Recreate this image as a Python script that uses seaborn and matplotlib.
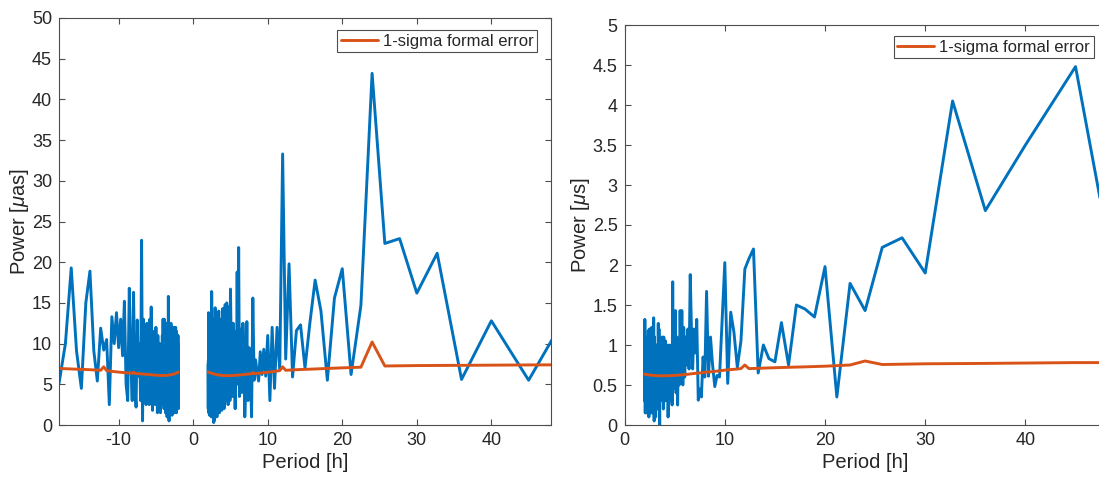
import matplotlib
matplotlib.use("Agg")
import matplotlib.pyplot as plt
import seaborn as sns
import pandas as pd
from matplotlib.ticker import FuncFormatter

# ---------------- data ----------------
# periods of the spectral grid [h] (harmonics k = 7 ... 180)
PERIOD = [
    51.43, 45.00, 40.00, 36.00,
    32.73, 30.00, 27.69, 25.71, 24.00, 22.50, 21.18, 20.00, 18.95, 18.00,
    17.14, 16.36, 15.65, 15.00, 14.40, 13.85, 13.33, 12.86, 12.41, 12.00,
    11.61, 11.25, 10.91, 10.59, 10.29, 10.00, 9.73, 9.47, 9.23, 9.00,
    8.78, 8.57, 8.37, 8.18, 8.00, 7.83, 7.66, 7.50, 7.35, 7.20,
    7.06, 6.92, 6.79, 6.67, 6.55, 6.43, 6.32, 6.21, 6.10, 6.00,
    5.90, 5.81, 5.71, 5.63, 5.54, 5.45, 5.37, 5.29, 5.22, 5.14,
    5.07, 5.00, 4.93, 4.86, 4.80, 4.74, 4.68, 4.62, 4.56, 4.50,
    4.44, 4.39, 4.34, 4.29, 4.24, 4.19, 4.14, 4.09, 4.04, 4.00,
    3.96, 3.91, 3.87, 3.83, 3.79, 3.75, 3.71, 3.67, 3.64, 3.60,
    3.56, 3.53, 3.50, 3.46, 3.43, 3.40, 3.36, 3.33, 3.30, 3.27,
    3.24, 3.21, 3.19, 3.16, 3.13, 3.10, 3.08, 3.05, 3.03, 3.00,
    2.98, 2.95, 2.93, 2.90, 2.88, 2.86, 2.83, 2.81, 2.79, 2.77,
    2.75, 2.73, 2.71, 2.69, 2.67, 2.65, 2.63, 2.61, 2.59, 2.57,
    2.55, 2.54, 2.52, 2.50, 2.48, 2.47, 2.45, 2.43, 2.42, 2.40,
    2.38, 2.37, 2.35, 2.34, 2.32, 2.31, 2.29, 2.28, 2.26, 2.25,
    2.24, 2.22, 2.21, 2.20, 2.18, 2.17, 2.16, 2.14, 2.13, 2.12,
    2.11, 2.09, 2.08, 2.07, 2.06, 2.05, 2.04, 2.02, 2.01, 2.00,
]

# left panel, positive periods, power [muas]
POWER_POS_MUAS = [
    15.7, 5.5, 12.8, 5.6,
    21.1, 16.2, 22.9, 22.3, 43.2, 14.7, 6.2, 19.2, 15.6, 5.5,
    14.0, 17.8, 12.5, 7.0, 12.3, 11.6, 5.9, 19.8, 8.1, 33.3,
    6.8, 12.0, 4.5, 12.0, 3.0, 11.0, 6.0, 9.3, 6.2, 9.0,
    5.4, 6.5, 8.0, 5.5, 15.6, 1.0, 7.5, 9.5, 3.0, 12.7,
    4.5, 1.0, 9.0, 12.5, 4.0, 11.8, 5.0, 3.5, 21.8, 5.0,
    18.8, 6.0, 11.5, 2.0, 10.0, 6.5, 12.5, 3.5, 9.0, 5.0,
    12.0, 16.7, 3.0, 10.5, 5.5, 14.5, 2.5, 12.0, 7.0, 15.0,
    4.0, 10.0, 3.0, 14.8, 6.0, 11.0, 2.0, 12.5, 5.0, 9.0,
    14.3, 3.0, 8.0, 1.8, 12.0, 5.0, 10.5, 2.5, 13.0, 6.0,
    9.0, 1.5, 11.0, 4.0, 14.0, 7.0, 2.0, 10.0, 5.0, 12.5,
    3.0, 8.5, 1.0, 11.0, 6.0, 13.5, 2.5, 9.5, 4.5, 12.0,
    3.0, 14.4, 5.0, 10.0, 1.5, 12.0, 6.5, 0.5, 9.0, 3.5,
    0.3, 11.0, 5.0, 13.0, 2.0, 8.0, 4.0, 11.5, 1.5, 7.5,
    3.5, 12.0, 6.0, 2.0, 16.4, 4.0, 9.0, 1.0, 10.5, 5.5,
    13.0, 3.0, 8.0, 2.0, 11.0, 5.0, 12.5, 1.5, 7.0, 3.5,
    10.0, 2.5, 13.5, 6.0, 1.2, 9.0, 4.0, 11.5, 2.0, 7.0,
    3.0, 10.0, 1.5, 6.5, 13.8, 4.0, 8.0, 2.0, 5.0, 7.5,
]

# left panel, negative periods (harmonics k = 20 ... 180), power [muas]
POWER_NEG_MUAS = [
    5.1,
    10.0, 19.3, 9.1, 4.5, 15.0, 18.9, 9.1, 5.4, 11.9, 9.2,
    10.5, 2.5, 13.3, 10.0, 13.8, 9.5, 13.0, 8.5, 15.2, 5.0,
    3.0, 16.8, 8.0, 3.0, 16.3, 5.0, 2.2, 12.9, 6.0, 10.0,
    3.0, 22.7, 0.5, 13.0, 5.0, 11.0, 2.5, 12.5, 6.0, 9.0,
    2.5, 13.0, 4.0, 14.5, 7.0, 1.8, 10.0, 11.5, 3.5, 8.0,
    2.5, 12.0, 5.0, 9.0, 1.5, 11.0, 4.0, 7.0, 2.0, 10.0,
    6.0, 1.5, 9.5, 4.5, 8.0, 2.5, 11.0, 3.0, 13.0, 5.0,
    9.0, 2.0, 13.0, 6.0, 3.0, 10.5, 1.5, 8.0, 4.0, 12.5,
    2.5, 7.0, 1.0, 11.0, 5.0, 9.0, 2.0, 15.8, 3.5, 7.5,
    0.5, 10.0, 4.0, 8.5, 1.5, 12.0, 5.5, 2.5, 9.0, 4.0,
    12.5, 1.5, 8.0, 3.5, 11.0, 6.0, 1.2, 9.5, 3.0, 12.0,
    5.0, 2.0, 10.0, 4.0, 8.0, 1.5, 11.5, 3.5, 7.0, 2.0,
    12.0, 5.0, 9.0, 1.5, 10.5, 4.0, 7.5, 2.5, 11.0, 3.0,
    9.0, 1.8, 12.0, 4.5, 8.0, 2.0, 10.5, 3.5, 7.0, 1.5,
    11.5, 5.0, 9.0, 2.5, 10.0, 3.0, 8.0, 2.0, 11.0, 4.5,
    7.0, 2.0, 10.0, 3.5, 8.5, 2.0, 11.0, 3.0, 6.0, 2.0,
]

# right panel, power [mus]
POWER_MUS = [
    0.15, 4.48, 3.50, 2.68,
    4.05, 1.90, 2.34, 2.22, 1.43, 1.77, 0.35, 1.98, 1.35, 1.45,
    1.50, 0.75, 1.28, 0.79, 0.83, 1.00, 0.65, 2.20, 2.08, 1.95,
    1.05, 0.72, 1.16, 1.41, 0.52, 2.03, 1.30, 0.60, 0.62, 0.48,
    0.75, 1.10, 0.61, 1.67, 0.60, 0.85, 0.35, 0.45, 0.31, 1.32,
    0.90, 1.20, 0.70, 1.20, 1.88, 0.70, 1.20, 0.75, 1.10, 0.60,
    1.22, 0.50, 1.43, 0.70, 1.43, 0.50, 1.00, 0.25, 1.10, 0.40,
    1.43, 0.60, 1.00, 0.45, 1.79, 0.25, 1.00, 0.50, 0.95, 0.30,
    1.00, 0.60, 0.10, 0.95, 0.40, 1.00, 0.60, 1.05, 0.30, 0.90,
    0.50, 1.10, 0.20, 0.85, 0.50, 1.10, 0.35, 0.90, 0.60, 1.02,
    0.30, 0.75, 0.00, 0.70, 1.20, 0.40, 1.27, 0.50, 0.95, 0.20,
    0.80, 0.35, 1.00, 0.50, 0.85, 0.10, 0.65, 0.30, 0.90, 0.45,
    1.10, 0.05, 0.70, 1.34, 0.40, 1.00, 0.20, 1.20, 0.60, 0.90,
    0.15, 0.80, 0.35, 1.22, 0.50, 0.95, 0.20, 1.20, 0.40, 0.80,
    0.15, 1.10, 0.50, 0.90, 0.20, 1.20, 0.35, 0.75, 0.10, 1.00,
    0.50, 1.18, 0.20, 0.80, 0.40, 1.10, 0.25, 0.90, 0.50, 1.05,
    0.15, 0.80, 0.40, 1.00, 0.20, 0.90, 0.45, 1.07, 0.30, 0.75,
    0.20, 0.95, 0.35, 0.70, 0.15, 0.90, 0.40, 1.32, 0.30, 0.55,
]

# 1-sigma formal error
ERR_POS_PERIOD = [2.00, 2.50, 3.00, 3.50, 4.00, 4.50, 5.00, 5.50, 6.00, 7.00,
                  7.83, 8.00, 8.18, 9.00, 10.00, 11.00, 11.61, 12.00, 12.41, 13.00,
                  14.00, 16.00, 18.00, 20.00, 22.50, 24.00, 25.71, 30.00, 36.00, 45.00,
                  51.43]
ERR_POS_MUAS = [6.50, 6.35, 6.22, 6.13, 6.08, 6.06, 6.07, 6.09, 6.13, 6.22,
                6.30, 6.45, 6.32, 6.38, 6.48, 6.60, 6.68, 7.15, 6.72, 6.75,
                6.80, 6.87, 6.95, 7.02, 7.10, 10.20, 7.25, 7.30, 7.33, 7.38,
                7.40]
ERR_NEG_PERIOD = [-18.00, -16.00, -14.00, -13.00, -12.41, -12.00, -11.61, -11.00,
                  -10.00, -9.00, -8.18, -8.00, -7.83, -7.00, -6.00, -5.00, -4.50,
                  -4.00, -3.50, -3.00, -2.50, -2.00]
ERR_NEG_MUAS = [6.95, 6.87, 6.80, 6.75, 6.72, 7.15, 6.68, 6.60, 6.50, 6.42,
                6.36, 6.50, 6.34, 6.28, 6.20, 6.12, 6.09, 6.08, 6.10, 6.17,
                6.28, 6.50]
ERR_POS_MUS = [0.636, 0.625, 0.618, 0.615, 0.615, 0.617, 0.620, 0.625, 0.630, 0.645,
               0.655, 0.660, 0.660, 0.670, 0.686, 0.697, 0.705, 0.750, 0.705, 0.707,
               0.712, 0.720, 0.727, 0.735, 0.750, 0.800, 0.756, 0.765, 0.770, 0.780,
               0.780]

LEGEND_LABEL = "1-sigma formal error"
XLABEL = "Period [h]"
YLABEL_LEFT = r"Power [$\mu$as]"
YLABEL_RIGHT = r"Power [$\mu$s]"
LEFT_XTICKS = [-10, 0, 10, 20, 30, 40]
LEFT_YTICKS = [0, 5, 10, 15, 20, 25, 30, 35, 40, 45, 50]
RIGHT_XTICKS = [0, 10, 20, 30, 40]
RIGHT_YTICKS = [0, 0.5, 1, 1.5, 2, 2.5, 3, 3.5, 4, 4.5, 5]

NEG_PERIOD = [-p for p in PERIOD[13:]]

# ---------------- style ----------------
BLUE = "#0072BD"
ORANGE = "#D95319"
TXT = "#262626"
AX = "#4d4d4d"

sns.set_theme(style="white")
plt.rcParams["font.family"] = ["Liberation Sans", "DejaVu Sans"]
plt.rcParams["mathtext.fontset"] = "custom"
plt.rcParams["mathtext.rm"] = "Liberation Sans"
plt.rcParams["mathtext.it"] = "Liberation Sans:italic"

fig = plt.figure(figsize=(10.99, 4.78), dpi=100)
ax1 = fig.add_axes([59 / 1099, 1 - 425 / 478, 492 / 1099, 407 / 478])
ax2 = fig.add_axes([624.6 / 1099, 1 - 425 / 478, 481 / 1099, 400 / 478])

LW = 2.1

def draw(ax, x, y, color, label=None):
    df = pd.DataFrame({"x": x, "y": y})
    sns.lineplot(data=df, x="x", y="y", ax=ax, color=color, linewidth=LW,
                 sort=False, estimator=None, label=label, legend=False)

# left panel
draw(ax1, NEG_PERIOD, POWER_NEG_MUAS, BLUE)
draw(ax1, PERIOD, POWER_POS_MUAS, BLUE)
draw(ax1, ERR_NEG_PERIOD, ERR_NEG_MUAS, ORANGE)
draw(ax1, ERR_POS_PERIOD, ERR_POS_MUAS, ORANGE, label=LEGEND_LABEL)
ax1.set_xlim(-18, 48)
ax1.set_ylim(0, 50)
ax1.set_xticks(LEFT_XTICKS)
ax1.set_yticks(LEFT_YTICKS)

# right panel
draw(ax2, PERIOD, POWER_MUS, BLUE)
draw(ax2, ERR_POS_PERIOD, ERR_POS_MUS, ORANGE, label=LEGEND_LABEL)
ax2.set_xlim(0, 48)
ax2.set_ylim(0, 5)
ax2.set_xticks(RIGHT_XTICKS)
ax2.set_yticks(RIGHT_YTICKS)

fmt = FuncFormatter(lambda v, p: f"{v:g}")
for ax, ylab, anchor in [(ax1, YLABEL_LEFT, (0.9715, 0.9705)),
                         (ax2, YLABEL_RIGHT, (0.975, 0.9725))]:
    ax.yaxis.set_major_formatter(fmt)
    ax.xaxis.set_major_formatter(fmt)
    ax.set_xlabel(XLABEL, fontsize=14.5, color=TXT, labelpad=3)
    ax.set_ylabel(ylab, fontsize=14.5, color=TXT, labelpad=0.5)
    ax.tick_params(direction="in", top=True, right=True, length=4, width=0.8,
                   color=AX, labelsize=13, labelcolor=TXT, pad=5,
                   bottom=True, left=True)
    for s in ax.spines.values():
        s.set_color(AX)
        s.set_linewidth(0.8)
        s.set_visible(True)
    handles = [h for h in ax.get_lines() if h.get_label() == LEGEND_LABEL]
    leg = ax.legend(handles=handles, labels=[LEGEND_LABEL], loc="upper right",
                    bbox_to_anchor=anchor, borderaxespad=0, fontsize=12,
                    frameon=True, fancybox=False, framealpha=1, borderpad=0.22,
                    handlelength=2.2, handletextpad=0.3)
    leg.get_frame().set_edgecolor(AX)
    leg.get_frame().set_linewidth(0.8)
    for t in leg.get_texts():
        t.set_color(TXT)

fig.savefig("out.png", dpi=100)
